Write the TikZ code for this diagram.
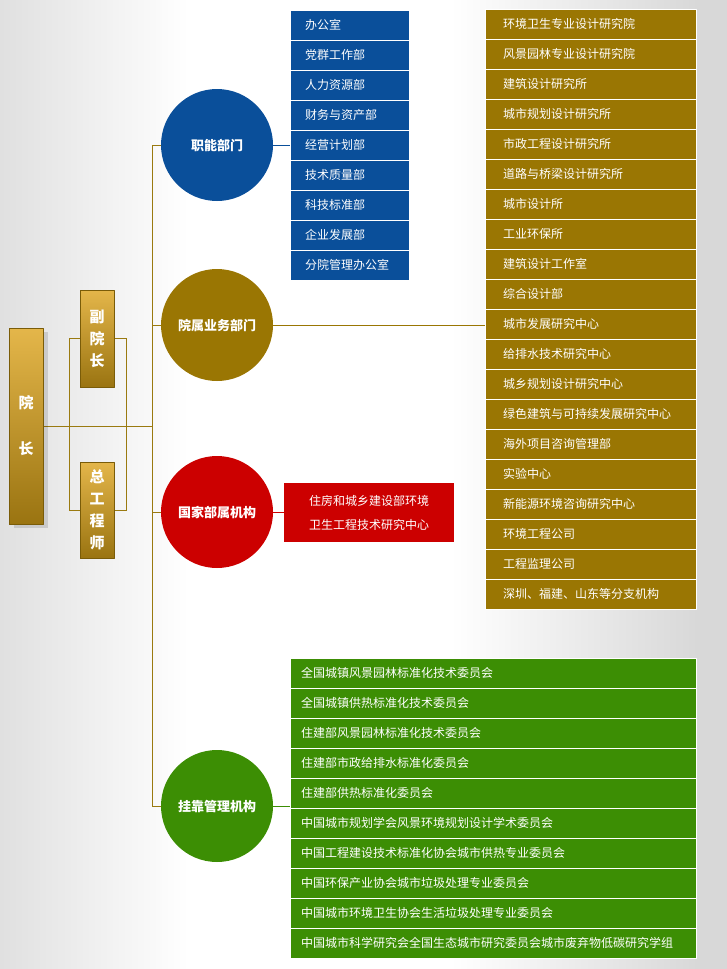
\documentclass[tikz,border=0pt]{standalone}
\usepackage{fontspec}
\setmainfont{Noto Sans CJK SC}
\usetikzlibrary{shadows,backgrounds}
\definecolor{deptblue}{HTML}{0A4F9A}
\definecolor{deptgold}{HTML}{9A7603}
\definecolor{deptred}{HTML}{CC0000}
\definecolor{deptgreen}{HTML}{3C8E04}
\definecolor{linegold}{HTML}{9A7A10}
\definecolor{leadtop}{HTML}{E4B64A}
\definecolor{leadbot}{HTML}{9A7411}
\definecolor{leadedge}{HTML}{7A5C08}
\definecolor{bgleft}{HTML}{E0E0E0}
\definecolor{bgright}{HTML}{D8D8D8}
\pgfdeclarehorizontalshading{pagebg}{100bp}{color(0bp)=(bgleft); color(25bp)=(bgleft); color(38bp)=(white); color(56bp)=(white); color(73bp)=(bgright); color(100bp)=(bgright)}
\begin{document}
\begin{tikzpicture}[x=1pt,y=-1pt,line join=round,
		every node/.style={text=white,inner sep=0pt},
		lead/.style={draw=leadedge,top color=leadtop,bottom color=leadbot,minimum width=34pt,align=center,font=\bfseries\fontsize{15}{22}\selectfont},
		dept/.style={circle,minimum size=112pt,font=\bfseries\fontsize{13}{15}\selectfont},
		listrow/.style={draw=white,line width=1pt,minimum height=30pt,align=left,font=\fontsize{12}{14}\selectfont},
		bluerow/.style={listrow,fill=deptblue,text width=89pt,inner xsep=15pt},
		goldrow/.style={listrow,fill=deptgold,text width=175pt,inner xsep=18pt},
		greenrow/.style={listrow,fill=deptgreen,text width=384pt,inner xsep=11pt},
		link/.style={line width=1pt}]
	\begin{scope}[on background layer]
		\shade[shading=pagebg] (0,0) rectangle (727,969);
	\end{scope}
	\useasboundingbox (0,0) rectangle (727,969);
	% leaders
	\node[lead,minimum height=196pt,drop shadow={shadow xshift=5pt,shadow yshift=-4pt,fill=black,opacity=.12}] (dean) at (26,426) {院\\[24pt]长};
	\node[lead,minimum height=97pt] (vice) at (97,338.5) {副\\院\\长};
	\node[lead,minimum height=96pt] (chief) at (97,510) {总\\工\\程\\师};
	% departments
	\node[dept,fill=deptblue] (func) at (217,145) {职能部门};
	\node[dept,fill=deptgold] (biz) at (217,325) {院属业务部门};
	\node[dept,fill=deptred] (natl) at (217,512) {国家部属机构};
	\node[dept,fill=deptgreen] (aff) at (217,806) {挂靠管理机构};
	\coordinate (trunk) at ([xshift=-9pt]func.west);
	% lists
	\foreach \txt [count=\i] in {办公室,党群工作部,人力资源部,财务与资产部,经营计划部,技术质量部,科技标准部,企业发展部,分院管理办公室}
		\node[bluerow] (b\i) at (349.5,25+30*\i-30) {\txt};
	\foreach \txt [count=\i] in {环境卫生专业设计研究院,风景园林专业设计研究院,建筑设计研究所,城市规划设计研究所,市政工程设计研究所,道路与桥梁设计研究所,城市设计所,工业环保所,建筑设计工作室,综合设计部,城市发展研究中心,给排水技术研究中心,城乡规划设计研究中心,绿色建筑与可持续发展研究中心,海外项目咨询管理部,实验中心,新能源环境咨询研究中心,环境工程公司,工程监理公司,{深圳、福建、山东等分支机构}}
		\node[goldrow] (g\i) at (590.5,24+30*\i-30) {\txt};
	\node[fill=deptred,minimum width=170pt,minimum height=59pt,align=center,font=\fontsize{12}{24}\selectfont] (natlbox) at (369,512.5) {住房和城乡建设部环境\\卫生工程技术研究中心};
	\foreach \txt [count=\i] in {全国城镇风景园林标准化技术委员会,全国城镇供热标准化技术委员会,住建部风景园林标准化技术委员会,住建部市政给排水标准化委员会,住建部供热标准化委员会,中国城市规划学会风景环境规划设计学术委员会,中国工程建设技术标准化协会城市供热专业委员会,中国环保产业协会城市垃圾处理专业委员会,中国城市环境卫生协会生活垃圾处理专业委员会,中国城市科学研究会全国生态城市研究委员会城市废弃物低碳研究学组}
		\node[greenrow] (r\i) at (493,673+30*\i-30) {\txt};
	% connectors
	\begin{scope}[on background layer,link]
		\draw[linegold] (vice) -- ++(-28,0) |- (chief);
		\draw[linegold] (vice) -- ++(29,0) |- (chief);
		\draw[linegold] (dean.east) -- (dean.east -| trunk);
		\draw[linegold] (func.west) -- (trunk) |- (aff.west);
		\draw[linegold] (biz.west) -- (biz.west -| trunk);
		\draw[linegold] (natl.west) -- (natl.west -| trunk);
		\draw[deptblue] (func) -- (b5);
		\draw[deptgold] (biz.east) -- (biz.east -| g11.west);
		\draw[deptred] (natl.east) -- (natl.east -| natlbox.west);
		\draw[deptgreen] (aff.east) -- (aff.east -| r1.west);
	\end{scope}
\end{tikzpicture}
\end{document}
